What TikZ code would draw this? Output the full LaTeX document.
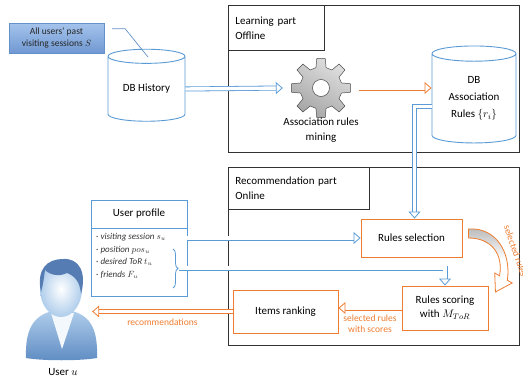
\documentclass[tikz,border=0pt]{standalone}
\usepackage{fontspec}
\setmainfont{Carlito}
\usetikzlibrary{shapes,arrows.meta,positioning,calc,decorations.pathreplacing}
\definecolor{flowblue}{RGB}{91,155,213}
\definecolor{ruleorange}{RGB}{237,125,49}
\definecolor{framegray}{RGB}{50,50,50}
\definecolor{calltop}{RGB}{165,196,236}
\definecolor{callbottom}{RGB}{112,152,210}
\definecolor{callborder}{RGB}{100,145,200}
\definecolor{userblue}{RGB}{95,140,195}
\definecolor{userlight}{RGB}{175,205,235}
\definecolor{userdark}{RGB}{85,125,180}

\begin{document}
\begin{tikzpicture}[
    x=1pt, y=-1pt,
    every node/.style={font=\fontsize{11}{15}\selectfont},
    frame/.style={rectangle, draw=framegray, line width=0.9pt, anchor=north west, inner sep=0pt},
    partlabel/.style={rectangle, draw=framegray, line width=0.9pt, fill=white, anchor=north west, align=left, text width=#1, inner xsep=7pt},
    db/.style={cylinder, shape border rotate=90, aspect=0.3, draw=flowblue, line width=0.9pt, fill=white, align=center, inner sep=0pt},
    rulebox/.style={rectangle, draw=ruleorange, line width=0.9pt, fill=white, align=center},
    hollow/.style={draw=#1, line width=0.8pt, double=white, double distance=3.4pt, -{Triangle[open, length=7pt, width=12pt]}},
    note/.style={font=\fontsize{9.5}{11.5}\selectfont, text=ruleorange, align=center},
    items/.style={font=\fontsize{9}{12.7}\selectfont, align=left, inner sep=2pt, text=black!80}
]
\useasboundingbox (0,0) rectangle (523,380);

% The two parts of the system
\node[frame, minimum width=291pt, minimum height=147pt] (learning) at (228,5) {};
\node[partlabel=82pt, minimum height=45pt] (learnlabel) at (learning.north west) {Learning part\\Offline};

\node[frame, minimum width=291pt, minimum height=178pt] (reco) at (228,167) {};
\node[partlabel=127pt, minimum height=42pt] (recolabel) at (reco.north west) {Recommendation part\\Online};

% Past sessions and the two databases
\node[rectangle, draw=callborder, top color=calltop, bottom color=callbottom, minimum width=95pt, minimum height=30pt, align=center, text=black!85, font=\fontsize{9.5}{12}\selectfont] (sessions) at (56.5,38) {All users' past\\visiting sessions $S$};
\coordinate (calltip) at (148,57);

\node[db, minimum width=77pt, minimum height=72pt] (history) at (146.5,89) {DB History};
\draw[callborder, line width=0.7pt] ($(sessions.north east)+(8,6)$) -- ++(13,0) -- (calltip);

\node[db, minimum width=84pt, minimum height=97pt, font=\fontsize{11}{17}\selectfont] (assoc) at (474,98.5) {DB\\Association\\Rules $\{r_i\}$};

% Mining gear
\node[minimum size=76pt, inner sep=0pt] (gear) at (321,88) {};
\begin{scope}[shift={(gear.center)}]
  \shadedraw[draw=gray!60!black, line width=0.5pt, even odd rule, top color=gray!25, bottom color=gray!70, shading angle=-30]
    (-14:21pt) \foreach \a in {0,45,...,315} { -- (\a-14:21pt) -- (\a-8:30pt) -- (\a+8:30pt) -- (\a+14:21pt) } -- cycle
    (0,0) circle[radius=8.5pt];
\end{scope}
\node[align=center] (mining) at (321,130.5) {Association rules\\mining};

% Recommendation steps
\node[rulebox, minimum width=101pt, minimum height=38pt] (sel) at (411.5,238) {Rules selection};
\node[rulebox, minimum width=86pt, minimum height=44pt, font=\fontsize{11}{14}\selectfont] (score) at (445,308) {Rules scoring\\with $M_{ToR}$};
\node[rulebox, minimum width=105pt, minimum height=43pt] (rank) at (285.5,311.5) {Items ranking};

% User profile
\node[rectangle, draw=flowblue, line width=0.9pt, minimum width=96pt, minimum height=96pt] (profile) at (139,248) {};
\draw[flowblue, line width=0.9pt] (profile.west |- 0,228) -- (profile.east |- 0,228);
\node (proftitle) at (139,214) {User profile};
\node[items, anchor=north west] (facts) at (94,231) {· \textit{visiting session} $s_u$\\· \textit{position} $pos_u$\\· \textit{desired ToR} $t_u$\\· \textit{friends} $F_u$};
\draw[flowblue, line width=0.8pt, decorate, decoration={brace, amplitude=5pt}] (173,249) -- (173,288);
\coordinate (bracetip) at (179,268);

% User
\node[minimum width=62pt, minimum height=95pt, inner sep=0pt] (user) at (61,312) {};
\shade[top color=userlight, bottom color=userblue] (26,358) .. controls (25,330) and (33,316) .. (52,311) -- (72,311) .. controls (91,316) and (98,330) .. (97,358) .. controls (80,361) and (43,361) .. (26,358) -- cycle;
\fill[white!85!userlight] (51,313) -- (62,349) -- (74,313) -- cycle;
\shade[inner color=white, outer color=userlight] (61,289) ellipse[x radius=21, y radius=28];
\fill[userdark] (41,292) .. controls (36,268) and (48,259) .. (63,259) .. controls (79,258) and (87,272) .. (81,294) .. controls (80,282) and (75,276) .. (67,273) .. controls (59,277) and (50,275) .. (45,270) .. controls (44,278) and (43,285) .. (41,292) -- cycle;
\node (username) at (63,372) {User $u$};

% Flows
\draw[hollow=flowblue] (history.east) -- (gear.west);
\draw[hollow=ruleorange] (gear.east) -- (gear.east -| assoc.west);
\draw[hollow=flowblue] ($(assoc.west)+(0,8)$) -| ($(sel.north)+(3,0)$);
\draw[hollow=flowblue] (sel.west -| profile.east) -- (sel.west);
\draw[hollow=flowblue] (bracetip) -| (score.north);
\draw[hollow=ruleorange] (score.west) -- (score.west -| rank.east) node[note, midway, below=3pt] {selected rules\\with scores};
\draw[hollow=ruleorange] (rank.west) -- (rank.west -| user.east) node[note, midway, below=4pt] {recommendations};

% Curved arrow between selection and scoring
\begin{scope}[shift={(sel.east)}]
  \shadedraw[draw=ruleorange, line width=0.8pt, top color=gray!55, bottom color=white, middle color=white]
    (6,-9) .. controls (33,-11) and (49,14) .. (44.9,42.3) -- (49.7,45) -- (33,54) -- (32.3,35) -- (37.1,37.8) .. controls (41,16) and (29,0) .. (6,0) -- cycle;
\end{scope}
\node[note, rotate=-71] (sellabel) at (515.5,251) {selected rules};

\end{tikzpicture}
\end{document}
